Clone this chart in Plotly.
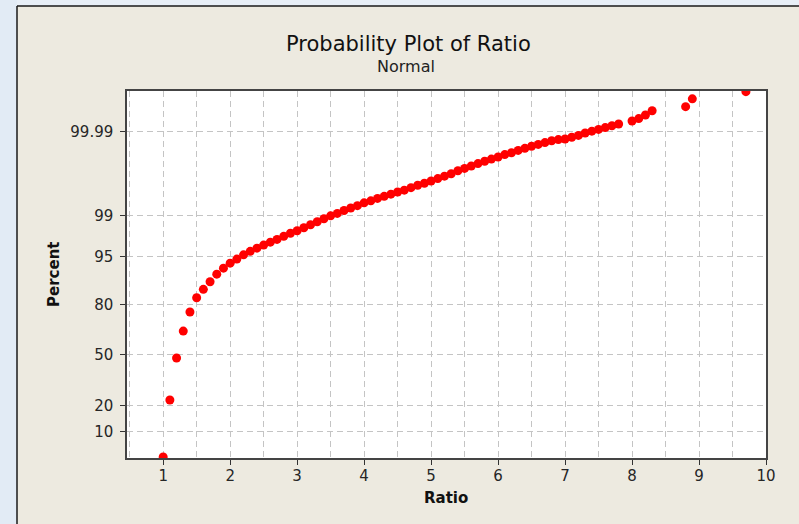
import plotly.graph_objects as go
from statistics import NormalDist

# ---- data (Minitab normal probability plot) ----
ratio = [1.0, 1.1, 1.2, 1.3, 1.4, 1.5, 1.6, 1.7, 1.8, 1.9,
         2.0, 2.1, 2.2, 2.3, 2.4, 2.5, 2.6, 2.7, 2.8, 2.9,
         3.0, 3.1, 3.2, 3.3, 3.4, 3.5, 3.6, 3.7, 3.8, 3.9,
         4.0, 4.1, 4.2, 4.3, 4.4, 4.5, 4.6, 4.7, 4.8, 4.9,
         5.0, 5.1, 5.2, 5.3, 5.4, 5.5, 5.6, 5.7, 5.8, 5.9,
         6.0, 6.1, 6.2, 6.3, 6.4, 6.5, 6.6, 6.7, 6.8, 6.9,
         7.0, 7.1, 7.2, 7.3, 7.4, 7.5, 7.6, 7.7, 7.8,
         8.0, 8.1, 8.2, 8.3, 8.8, 8.9, 9.7]

percent = [4.46, 22.66, 48.0, 65.5, 76.3, 83.0, 86.3, 88.9, 91.1, 92.6,
           93.7, 94.5, 95.25, 95.8, 96.25, 96.65, 97.0, 97.3, 97.6, 97.88,
           98.08, 98.30, 98.50, 98.68, 98.84, 98.98, 99.086, 99.20, 99.286, 99.36,
           99.44, 99.49, 99.547, 99.59, 99.632, 99.67, 99.70, 99.736, 99.767, 99.79,
           99.813, 99.836, 99.856, 99.874, 99.893, 99.9065, 99.9184, 99.9289, 99.9381, 99.9453,
           99.9517, 99.9581, 99.9624, 99.9675, 99.9714, 99.9749, 99.9776, 99.9800, 99.9822, 99.9835,
           99.9841, 99.9858, 99.9874, 99.9892, 99.99043, 99.9915, 99.99247, 99.99333, 99.9941,
           99.99519, 99.99592, 99.99683, 99.99765, 99.99826, 99.99902, 99.99943]

y_tick_labels = ["10", "20", "50", "80", "95", "99", "99.99"]
x_tick_values = [1, 2, 3, 4, 5, 6, 7, 8, 9, 10]

title_text = "Probability Plot of Ratio"
subtitle_text = "Normal"
x_title = "Ratio"
y_title = "Percent"

# ---- normal probability scale ----
nd = NormalDist()
def to_score(p):
    return nd.inv_cdf(p / 100.0)

y_scores = [to_score(p) for p in percent]
y_tick_vals = [to_score(float(t)) for t in y_tick_labels]

W, H = 799, 524
L, R, T, B = 127, 33, 91, 66
pw, ph = W - L - R, H - T - B

def px_x(px):
    return (px - L) / pw

def px_y(py):
    return (H - B - py) / ph

BEIGE = "#EDEAE0"
GRID = "#C4C4C4"
FRAME = "#444444"
TICKFONT = dict(family="DejaVu Sans", size=15, color="#262626")

fig = go.Figure()
fig.add_trace(go.Scatter(
    x=ratio, y=y_scores, mode="markers",
    marker=dict(color="#FF0000", size=9, line=dict(width=0)),
    hovertemplate="Ratio=%{x}<br>Percent=%{customdata}<extra></extra>",
    customdata=percent,
))

axis_common = dict(
    showline=True, mirror=True, linecolor=FRAME, linewidth=1.5,
    ticks="outside", ticklen=5, tickwidth=1, tickcolor="#333333",
    tickfont=TICKFONT, showgrid=True, gridcolor=GRID, gridwidth=1,
    griddash="6px,4px", zeroline=False,
)

fig.update_layout(
    width=W, height=H,
    margin=dict(l=L, r=R, t=T, b=B, autoexpand=False),
    paper_bgcolor=BEIGE, plot_bgcolor="white",
    showlegend=False,
    xaxis=dict(range=[0.46, 10.0], tickvals=x_tick_values,
               ticklabelstandoff=-2,
               minor=dict(dtick=0.5, tick0=0.5, showgrid=True, gridcolor=GRID,
                          gridwidth=1, griddash="6px,4px", ticks=""),
               **axis_common),
    yaxis=dict(range=[-1.717, 4.40], tickvals=y_tick_vals, ticktext=y_tick_labels,
               ticklabelstandoff=4, **axis_common),
    shapes=[
        # light blue page strips outside the Minitab frame
        dict(type="rect", xref="paper", yref="paper", layer="below",
             x0=px_x(-5), x1=px_x(17), y0=px_y(H + 5), y1=px_y(-5),
             fillcolor="#E2EBF5", line=dict(width=0)),
        dict(type="rect", xref="paper", yref="paper", layer="below",
             x0=px_x(17), x1=px_x(W + 5), y0=px_y(6), y1=px_y(-5),
             fillcolor="#E8EFF7", line=dict(width=0)),
        # frame border
        dict(type="line", xref="paper", yref="paper",
             x0=px_x(17), x1=px_x(17), y0=px_y(6), y1=px_y(H + 5),
             line=dict(color="#1A1A1A", width=1.5)),
        dict(type="line", xref="paper", yref="paper",
             x0=px_x(17), x1=px_x(W + 5), y0=px_y(6), y1=px_y(6),
             line=dict(color="#1A1A1A", width=1.5)),
    ],
    annotations=[
        dict(text=title_text, xref="paper", yref="paper", x=px_x(408), y=px_y(44),
             xanchor="center", yanchor="middle", showarrow=False,
             font=dict(family="DejaVu Sans", size=21, color="#111111")),
        dict(text=subtitle_text, xref="paper", yref="paper", x=px_x(406), y=px_y(67),
             xanchor="center", yanchor="middle", showarrow=False,
             font=dict(family="DejaVu Sans", size=16, color="#222222")),
        dict(text="<b>" + x_title + "</b>", xref="paper", yref="paper",
             x=px_x(446), y=px_y(498), xanchor="center", yanchor="middle",
             showarrow=False, font=dict(family="DejaVu Sans", size=15, color="#111111")),
        dict(text="<b>" + y_title + "</b>", xref="paper", yref="paper",
             x=px_x(54), y=px_y(275), xanchor="center", yanchor="middle",
             textangle=-90, showarrow=False,
             font=dict(family="DejaVu Sans", size=15, color="#111111")),
    ],
)

fig.write_html(
    "out.html",
    config={"displayModeBar": False},
    post_script="document.body.style.margin='0';document.body.style.overflow='hidden';",
)
